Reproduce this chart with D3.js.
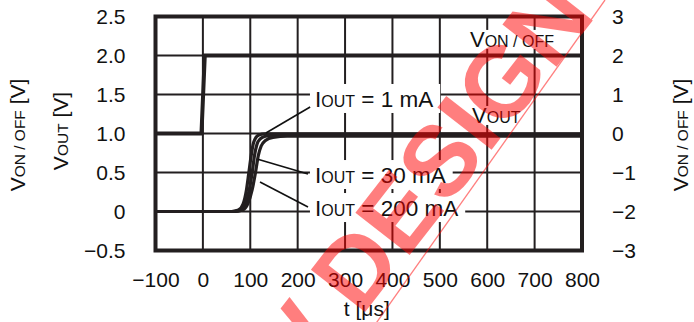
<!DOCTYPE html>
<html><head><meta charset="utf-8">
<script src="https://cdn.jsdelivr.net/npm/d3@7"></script>
<style>
html,body{margin:0;padding:0;background:#fff;}
svg{display:block;font-family:"Liberation Sans",Arial,sans-serif;}
</style></head>
<body>
<svg id="c" width="694" height="322"></svg>
<script>
// ---- data ----
const tTicks = [-100, 0, 100, 200, 300, 400, 500, 600, 700, 800];
const tTickLabels = ["\u2212100", "0", "100", "200", "300", "400", "500", "600", "700", "800"];
const leftTicks = [-0.5, 0, 0.5, 1.0, 1.5, 2.0, 2.5];
const leftTickLabels = ["\u22120.5", "0", "0.5", "1.0", "1.5", "2.0", "2.5"];
const rightTicks = [-3, -2, -1, 0, 1, 2, 3];
const rightTickLabels = ["\u22123", "\u22122", "\u22121", "0", "1", "2", "3"];

// V_ON/OFF (right axis, V) vs t (us)
const vonT = [-100, -3, 4, 800];
const vonV = [0, 0, 2, 2];
// V_OUT (left axis, V) vs t (us)
const vout1T = [-100, 60, 75, 85, 92, 97, 102, 106, 111, 118, 130, 800];
const vout1V = [0, 0, 0.02, 0.1, 0.28, 0.5, 0.72, 0.86, 0.94, 0.98, 0.995, 0.995];
const vout30T = [-100, 63, 80, 90, 98, 104, 109, 114, 121, 132, 150, 800];
const vout30V = [0, 0, 0.02, 0.1, 0.28, 0.5, 0.72, 0.86, 0.93, 0.965, 0.98, 0.98];
const vout200T = [-100, 66, 84, 95, 104, 111, 117, 123, 132, 148, 178, 800];
const vout200V = [0, 0, 0.02, 0.1, 0.28, 0.5, 0.72, 0.84, 0.91, 0.95, 0.965, 0.965];

const seriesLabels = ["1 mA", "30 mA", "200 mA"];

// ---- layout ----
const svg = d3.select("#c");
const L = 155.5, R = 582, T = 16.5, B = 250.5;
const x = d3.scaleLinear().domain([-100, 800]).range([L, R]);
const y = d3.scaleLinear().domain([-0.5, 2.5]).range([B, T]);
const y2 = d3.scaleLinear().domain([-3, 3]).range([B, T]);
const ink = "#231f20";

// grid
const g = svg.append("g");
g.selectAll("line.v").data(tTicks.slice(1, -1)).enter().append("line")
  .attr("x1", d => x(d)).attr("x2", d => x(d)).attr("y1", T).attr("y2", B)
  .attr("stroke", ink).attr("stroke-width", 2);
g.selectAll("line.h").data(leftTicks.slice(1, -1)).enter().append("line")
  .attr("y1", d => y(d)).attr("y2", d => y(d)).attr("x1", L).attr("x2", R)
  .attr("stroke", ink).attr("stroke-width", 2);

// axes
const fs = 21;
const axL = d3.axisLeft(y).tickValues(leftTicks).tickSize(0).tickPadding(30)
  .tickFormat((d, i) => leftTickLabels[i]);
const axR = d3.axisRight(y2).tickValues(rightTicks).tickSize(0).tickPadding(30)
  .tickFormat((d, i) => rightTickLabels[i]);
const axB = d3.axisBottom(x).tickValues(tTicks).tickSize(0).tickPadding(22)
  .tickFormat((d, i) => tTickLabels[i]);
function style(sel) {
  sel.select(".domain").remove();
  sel.selectAll("text").attr("font-size", fs).attr("fill", "#111")
    .attr("font-family", "'Liberation Sans',Arial,sans-serif");
}
svg.append("g").attr("transform", `translate(${L},0)`).call(axL).call(style);
svg.append("g").attr("transform", `translate(${R},0)`).call(axR).call(style);
svg.append("g").attr("transform", `translate(0,${B})`).call(axB).call(style);

// annotation label helper
function subLabel(parent, tx, ty, main, sub, rest, big, small) {
  const t = parent.append("text").attr("x", tx).attr("y", ty).attr("fill", "#111");
  t.append("tspan").attr("font-size", big).text(main);
  t.append("tspan").attr("font-size", small).text(sub);
  if (rest) t.append("tspan").attr("font-size", big).text(rest);
  return t;
}

// white boxes + labels for currents
const annG = svg.append("g");
const annPos = [
  {t: 236.5, v: 1.34, lt0: 226.3, lv0: 1.34, lt1: 133, lv1: 1.006},
  {t: 236.5, v: 0.365, lt0: 221.8, lv0: 0.48, lt1: 116, lv1: 0.67},
  {t: 236.5, v: -0.058, lt0: 221.8, lv0: 0.058, lt1: 120.5, lv1: 0.378}
];
const boxLayer = annG.append("g");
const textLayer = svg.append("g");
annPos.forEach((p, i) => {
  const t = subLabel(textLayer, x(p.t), y(p.v), "I", "OUT", " = " + seriesLabels[i], 22.5, 16);
  const bb = t.node().getBBox();
  boxLayer.append("rect").attr("x", bb.x - 5).attr("y", y(p.v) - 23)
    .attr("width", bb.width + 12).attr("height", 29).attr("fill", "#fff");
});
// V labels
const vOn = subLabel(textLayer, x(563.6), y(2.11), "V", "ON / OFF", null, 22, 16);
const vOut = subLabel(textLayer, x(568), y(1.135), "V", "OUT", null, 22, 16);
[vOn, vOut].forEach(t => {
  const bb = t.node().getBBox();
  boxLayer.append("rect").attr("x", bb.x - 2).attr("y", bb.y + 3)
    .attr("width", bb.width + 4).attr("height", bb.height - 6).attr("fill", "#fff");
});

// curves
const curveG = svg.insert("g", () => textLayer.node());
const line = d3.line().x(d => x(d[0])).y(d => y(d[1])).curve(d3.curveMonotoneX);
const line2 = d3.line().x(d => x(d[0])).y(d => y2(d[1]));
curveG.append("path").datum(vonT.map((t, i) => [t, vonV[i]])).attr("d", line2)
  .attr("fill", "none").attr("stroke", ink).attr("stroke-width", 4);
[[vout1T, vout1V], [vout30T, vout30V], [vout200T, vout200V]].forEach(([ts, vs]) => {
  curveG.append("path").datum(ts.map((t, i) => [t, vs[i]])).attr("d", line)
    .attr("fill", "none").attr("stroke", ink).attr("stroke-width", 3.2);
});
// leaders
annPos.forEach(p => {
  curveG.append("line").attr("x1", x(p.lt0)).attr("y1", y(p.lv0))
    .attr("x2", x(p.lt1)).attr("y2", y(p.lv1)).attr("stroke", "#111").attr("stroke-width", 1.6);
});
// border
curveG.append("rect").attr("x", L).attr("y", T).attr("width", R - L).attr("height", B - T)
  .attr("fill", "none").attr("stroke", ink).attr("stroke-width", 4);

// axis titles
function rotTitle(cx, cy, main, sub, rest) {
  const t = svg.append("text").attr("transform", `translate(${cx},${cy}) rotate(-90)`)
    .attr("text-anchor", "middle").attr("fill", "#111");
  t.append("tspan").attr("font-size", 21).text(main);
  t.append("tspan").attr("font-size", 15.5).text(sub);
  t.append("tspan").attr("font-size", 21).text(rest);
}
rotTitle(25, 135, "V", "ON / OFF", " [V]");
rotTitle(68, 131, "V", "OUT", " [V]");
rotTitle(688, 135, "V", "ON / OFF", " [V]");
svg.append("text").attr("x", (L + R) / 2 - 2).attr("y", 315.5).attr("text-anchor", "middle")
  .attr("font-size", 21).attr("fill", "#111").text("t [\u03bcs]");

// watermark
const wm = svg.append("g").attr("opacity", 0.5);
wm.append("text").attr("transform", "translate(597,15) rotate(-52)")
  .attr("text-anchor", "end").attr("font-size", 100).attr("font-weight", "bold")
  .attr("fill", "#ff0000")
  .text("NOT RECOMMENDED FOR NEW DESIGN");
wm.append("line").attr("x1", 377 - 322 / 1.41 * 0.2).attr("y1", 322 + 0.2 * 322)
  .attr("x2", 605).attr("y2", 0).attr("stroke", "#ff0000").attr("stroke-width", 1.3);
</script>
</body></html>
